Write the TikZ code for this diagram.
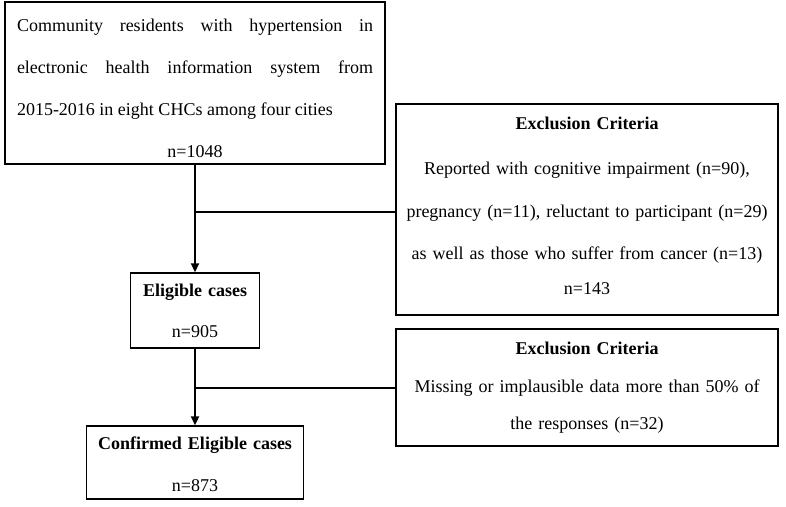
\documentclass[tikz,border=0pt]{standalone}
\usepackage{fontspec}
\setmainfont{Liberation Serif}
\usetikzlibrary{arrows.meta}
\tikzset{>={Triangle[length=9pt,width=8pt]}}
\tikzset{
  box/.style={draw, line width=1.4pt, inner sep=0pt, font=\fontsize{18}{42}\selectfont},
  link/.style={line width=2pt}
}

\begin{document}
\begin{tikzpicture}[x=1pt,y=1pt]
\useasboundingbox (0,0) rectangle (786,506);
% boxes
\node[box, minimum width=380pt, minimum height=162pt, text width=356pt, align=justify] (comm) at (195,423)
  {\rule{0pt}{24pt}Community residents with hypertension in\linebreak electronic health information system from\linebreak 2015-2016 in eight CHCs among four cities\par
   {\centering n=1048\par}};
\node[box, minimum width=382pt, minimum height=211pt, text width=380pt, align=center] (excl1) at (587,296.5)
  {\textbf{Exclusion Criteria}\\[3pt] Reported with cognitive impairment (n=90),\\[1pt] pregnancy (n=11), reluctant to participant (n=29)\\ as well as those who suffer from cancer (n=13)\\[-7pt] n=143\rule[-7pt]{0pt}{7pt}};
\node[box, minimum width=129pt, minimum height=75pt, text width=125pt, align=center] (elig) at (195,195.5)
  {\textbf{Eligible cases}\\[-1pt] n=905};
\node[box, minimum width=217pt, minimum height=73pt, text width=213pt, align=center] (conf) at (195,43.5)
  {\rule{0pt}{16.5pt}\textbf{Confirmed Eligible cases}\\ n=873};
\node[box, minimum width=382pt, minimum height=117pt, text width=380pt, align=center] (excl2) at (587,118.5)
  {\textbf{Exclusion Criteria}\\[-4pt] Missing or implausible data more than 50\% of\\[-5pt] the responses (n=32)};
% connectors
\coordinate (j1) at ([yshift=-2.5pt]excl1.west);
\draw[link,->] (comm.south) -- (comm.south |- elig.north);
\draw[link] (comm.south |- j1) -- (j1);
\draw[link,->] (elig.south) -- (elig.south |- conf.north);
\draw[link] (elig.south |- excl2.west) -- (excl2.west);
\end{tikzpicture}
\end{document}
